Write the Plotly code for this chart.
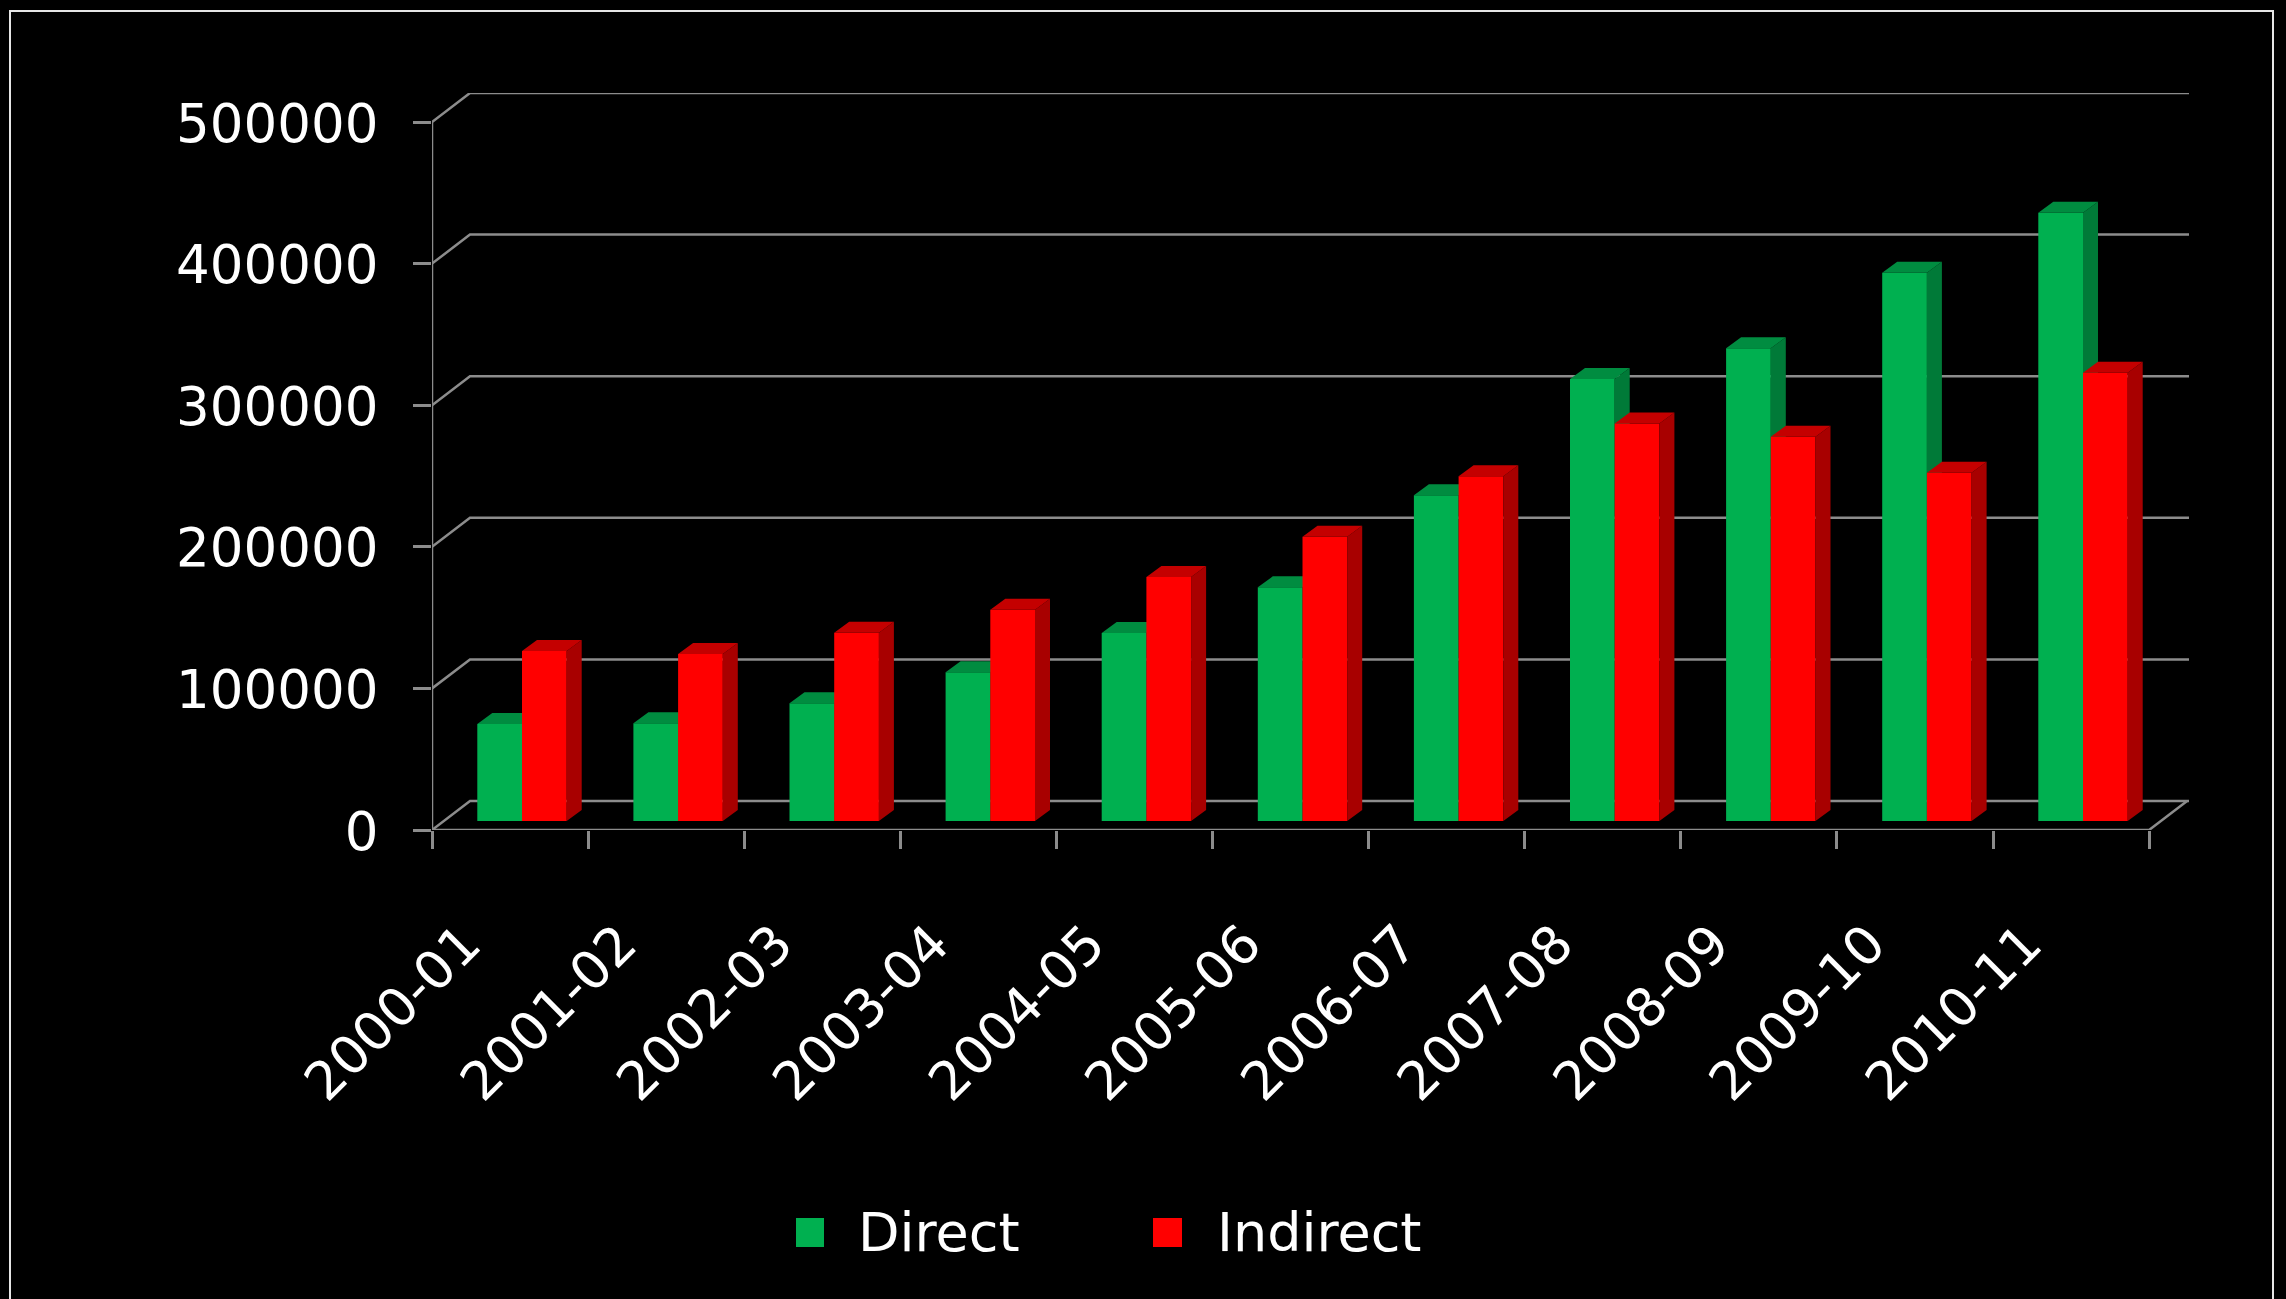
import plotly.graph_objects as go

categories = ["2000-01", "2001-02", "2002-03", "2003-04", "2004-05", "2005-06",
              "2006-07", "2007-08", "2008-09", "2009-10", "2010-11"]
direct = [68500, 69000, 83100, 105000, 132800, 165000, 230000, 312100, 333800, 387200, 429600]
indirect = [120000, 118000, 133000, 149200, 172300, 200800, 243400, 280800, 271400, 246000, 316600]
y_ticks = [0, 100000, 200000, 300000, 400000, 500000]
y_labels = ["0", "100000", "200000", "300000", "400000", "500000"]

W, H = 2286, 1299
L, R, T, B = 432, 2189, 93, 830      # plot box in page pixels
PX_CAT = 156.1                       # pixels per category
PX_VAL = 708 / 500000                # pixels per value unit
X_MAX = (R - L) / PX_CAT
Y_MAX = (B - T) / PX_VAL
WALL_DX, WALL_DY = 38 / PX_CAT, 29 / PX_VAL
LIFT = 9 / PX_VAL
BAR_W = 44.7 / PX_CAT
BAR_X0 = 45.3 / PX_CAT
DDX, DDY = 15 / PX_CAT, 11 / PX_VAL
GRID = "#8C8C8C"
GRID_W = 2.5
FONT = "DejaVu Sans"
FS = 53


def px(x):
    return (x - L) / (R - L)


def py(y):
    return (B - y) / (B - T)


def faces(values, start):
    side_x, side_y, top_x, top_y = [], [], [], []
    for i, v in enumerate(values):
        xl = i + start
        xr = xl + BAR_W
        t = LIFT + v
        side_x += [xr, xr + DDX, xr + DDX, xr, None]
        side_y += [LIFT, LIFT + DDY, t + DDY, t, None]
        top_x += [xl, xl + DDX, xr + DDX, xr, None]
        top_y += [t, t + DDY, t + DDY, t, None]
    return side_x, side_y, top_x, top_y


def series(fig, name, values, start, front, side, top, xa, ya):
    fig.add_trace(go.Bar(name=name, x=[i + start + BAR_W / 2 for i in range(len(values))], y=values,
                         base=LIFT, width=BAR_W, marker=dict(color=front, line=dict(width=0)),
                         xaxis=xa, yaxis=ya, showlegend=False))
    sx, sy, tx, ty = faces(values, start)
    for fx, fy, c in ((sx, sy, side), (tx, ty, top)):
        fig.add_trace(go.Scatter(x=fx, y=fy, mode="lines", fill="toself", fillcolor=c,
                                 line=dict(width=0), hoverinfo="skip", showlegend=False,
                                 xaxis=xa, yaxis=ya))


fig = go.Figure()

# wall gridlines and the front axis lines
gx, gy = [], []
for v in y_ticks:
    gx += [0, WALL_DX, X_MAX, None]
    gy += [v, v + WALL_DY, v + WALL_DY, None]
gx += [0, 0, None, 0, len(categories), len(categories) + WALL_DX]
gy += [0, y_ticks[-1], None, 0, 0, WALL_DY]
fig.add_trace(go.Scatter(x=gx, y=gy, mode="lines", line=dict(color=GRID, width=GRID_W),
                         hoverinfo="skip", showlegend=False, cliponaxis=False))

series(fig, "Direct", direct, BAR_X0, "#00B050", "#007A38", "#008C40", "x2", "y2")
series(fig, "Indirect", indirect, BAR_X0 + BAR_W, "#FF0000", "#A80000", "#C40000", "x3", "y3")

hidden_x = dict(range=[0, X_MAX], visible=False, overlaying="x")
hidden_y = dict(range=[0, Y_MAX], visible=False, overlaying="y")

legend_items = [("Direct", "#00B050", 796, 824, 857), ("Indirect", "#FF0000", 1153, 1182, 1216)]
shapes = [dict(type="rect", xref="paper", yref="paper", x0=px(10), x1=px(2273), y0=py(11), y1=py(1320),
               line=dict(color="#E6E6E6", width=2))]
annotations = []
for name, colour, k0, k1, tx in legend_items:
    shapes.append(dict(type="rect", xref="paper", yref="paper", x0=px(k0), x1=px(k1),
                       y0=py(1218), y1=py(1247), fillcolor=colour, line=dict(width=0)))
    annotations.append(dict(text=name, xref="paper", yref="paper", x=px(tx), y=py(1232),
                            xanchor="left", yanchor="middle", showarrow=False, borderpad=0,
                            font=dict(family=FONT, size=54, color="white")))

fig.update_layout(
    width=W, height=H, autosize=False,
    margin=dict(l=L, r=W - R, t=T, b=H - B, pad=0),
    paper_bgcolor="black", plot_bgcolor="black",
    showlegend=False, shapes=shapes, annotations=annotations,
    font=dict(family=FONT, size=FS, color="white"),
    xaxis=dict(range=[0, X_MAX], tickmode="array",
               tickvals=[i + 0.21 for i in range(len(categories))], ticktext=categories,
               tickangle=-45, ticks="", showgrid=False, zeroline=False, showline=False,
               ticklabelstandoff=71,
               minor=dict(tickmode="array", tickvals=list(range(len(categories) + 1)),
                          ticks="outside", ticklen=18, tickwidth=GRID_W, tickcolor=GRID, showgrid=False)),
    yaxis=dict(range=[0, Y_MAX], tickmode="array", tickvals=y_ticks, ticktext=y_labels,
               ticks="outside", ticklen=18, tickwidth=GRID_W, tickcolor=GRID,
               showgrid=False, zeroline=False, showline=False, ticklabelstandoff=24, ticklabelshift=1),
    xaxis2=hidden_x, yaxis2=hidden_y, xaxis3=hidden_x, yaxis3=hidden_y,
)

fig.write_html("out.html", config=dict(displayModeBar=False),
               post_script="document.body.style.margin='0';document.documentElement.style.overflow='hidden';")
